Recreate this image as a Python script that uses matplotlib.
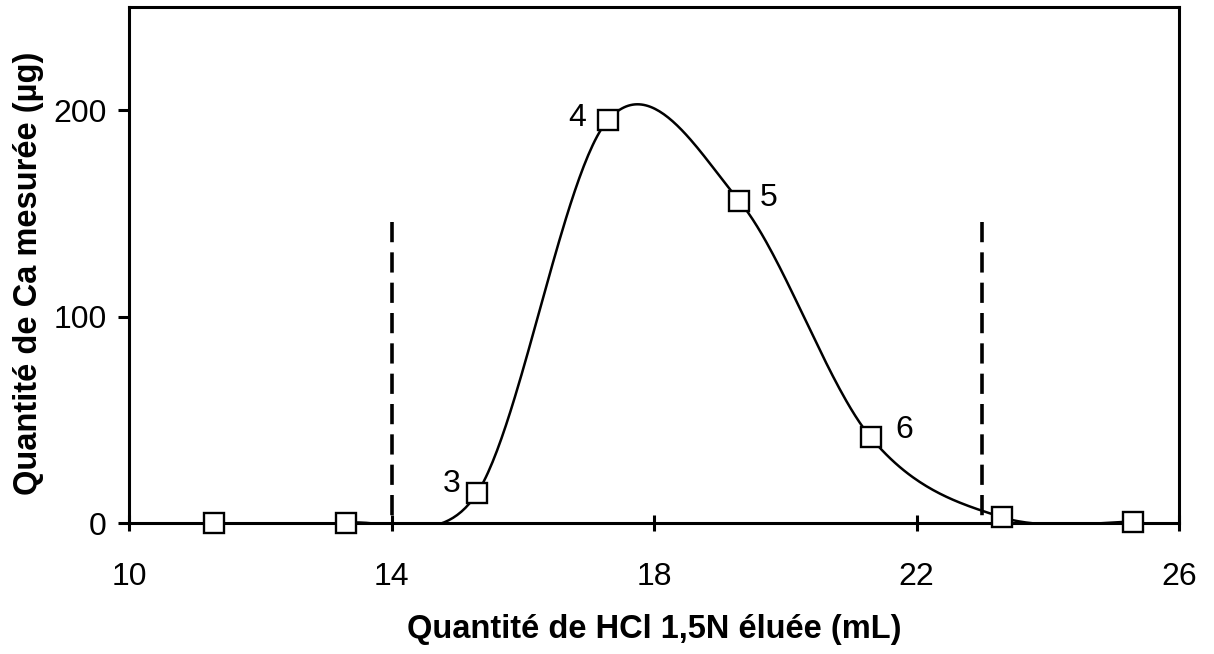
import numpy as np
import matplotlib
matplotlib.use("Agg")
import matplotlib.pyplot as plt
from matplotlib.patches import Rectangle

# ---- data ----
x_vals = [11.3, 13.3, 15.3, 17.3, 19.3, 21.3, 23.3, 25.3]
y_vals = [0.0, 0.0, 14.4, 195.5, 156.0, 41.5, 2.8, 0.6]
point_labels = {2: "3", 3: "4", 4: "5", 5: "6"}
label_offsets = {2: (-18, 7), 3: (-22, 1), 4: (21, 2), 5: (24, 5)}  # points
cut_x = [14.0, 23.0]
cut_top = 146
x_ticks = [10, 14, 18, 22, 26]
y_ticks = [0, 100, 200]
x_label = "Quantité de HCl 1,5N éluée (mL)"
y_label = "Quantité de Ca mesurée (µg)"

FONT = ["Liberation Sans Narrow", "Liberation Sans", "DejaVu Sans"]
plt.rcParams["font.family"] = FONT

fig = plt.figure(figsize=(12.14, 6.54), dpi=100)
ax = fig.add_axes([0.1064, 0.2003, 0.8649, 0.7885])
ax.set_xlim(10, 26)
ax.set_ylim(0, 250)

# ---- Excel-like smoothed curve (Bezier, computed in display space) ----
pts = ax.transData.transform(np.column_stack([x_vals, y_vals]))
n = len(pts)
curve = []
t = np.linspace(0, 1, 60)[:, None]
for i in range(n - 1):
    p0 = pts[max(i - 1, 0)]
    p1 = pts[i]
    p2 = pts[i + 1]
    p3 = pts[min(i + 2, n - 1)]
    d12 = np.linalg.norm(p2 - p1)
    d02 = np.linalg.norm(p2 - p0)
    d13 = np.linalg.norm(p3 - p1)
    f1 = 1 / 6 if d02 / 6 < d12 / 2 else d12 / d02 / 2
    f2 = 1 / 6 if d13 / 6 < d12 / 2 else d12 / d13 / 2
    b1 = p1 + (p2 - p0) * f1
    b2 = p2 - (p3 - p1) * f2
    seg = ((1 - t) ** 3) * p1 + 3 * ((1 - t) ** 2) * t * b1 + 3 * (1 - t) * t ** 2 * b2 + t ** 3 * p2
    curve.append(seg if i == 0 else seg[1:])
curve = np.vstack(curve)
curve_data = ax.transData.inverted().transform(curve)
line, = ax.plot(curve_data[:, 0], curve_data[:, 1], color="black", lw=1.8, zorder=3)
clip = Rectangle((10, -0.9), 16, 251, transform=ax.transData)
line.set_clip_path(clip)

# markers
ax.plot(x_vals, y_vals, linestyle="none", marker="s", markersize=14,
        markerfacecolor="white", markeredgecolor="black", markeredgewidth=1.7,
        zorder=5, clip_on=False)

# dashed cut lines (drawn from the top down so the pattern starts at the top)
for cx in cut_x:
    ax.plot([cx, cx], [cut_top, 0], color="black", lw=2.6,
            linestyle=(0, (5.6, 2.8)), zorder=2)

# point labels
for idx, lab in point_labels.items():
    ax.annotate(lab, (x_vals[idx], y_vals[idx]), xytext=label_offsets[idx],
                textcoords="offset points", ha="center", va="center",
                fontsize=23, zorder=6)

# axes styling
for s in ax.spines.values():
    s.set_linewidth(2.2)
ax.set_xticks(x_ticks)
ax.set_yticks(y_ticks)
ax.tick_params(axis="x", direction="inout", length=11.5, width=2.2, pad=22, labelsize=23)
ax.tick_params(axis="y", direction="out", length=8, width=2.2, pad=8, labelsize=23)

ax.set_xlabel(x_label, fontsize=23.5, fontweight="bold", va="center")
ax.xaxis.set_label_coords(0.5, -0.207)
ax.set_ylabel(y_label, fontsize=23.5, fontweight="bold", va="center")
ax.yaxis.set_label_coords(-0.0955, 0.485)

fig.savefig("out.png", dpi=100)
